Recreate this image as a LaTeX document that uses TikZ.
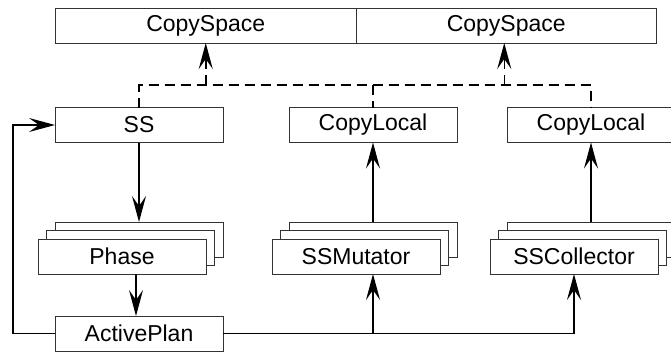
\documentclass[tikz,border=0pt]{standalone}
\usepackage{fontspec}
\setmainfont{Liberation Sans}
\usetikzlibrary{arrows.meta}
\begin{document}
\begin{tikzpicture}[x=1pt,y=-1pt,
  box/.style={draw=black!80,line width=0.9pt,fill=white,minimum width=168pt,minimum height=35pt,
              inner sep=0pt,outer sep=0pt,font=\fontsize{23}{27}\selectfont},
  wide/.style={box,minimum width=300.5pt},
  conn/.style={line width=1.5pt},
  arr/.style={conn,-{Stealth[length=26pt,width=14pt,inset=10pt]}},
  bus/.style={conn,dashed,dash pattern=on 10pt off 6pt}]
\useasboundingbox (0,0) rectangle (671,353);
\clip (0,0) rectangle (671,353);

% shared spaces
\node[wide] (cs1) at (205.75,25.5) {CopySpace};
\node[wide] (cs2) at (506.25,25.5) {CopySpace};

% top row
\node[box] (ss)  at (139,125) {SS};
\node[box] (cl1) at (373,125) {CopyLocal};
\node[box] (cl2) at (591,125) {CopyLocal};

% stacked instances
\node[box] (phaseB) at (139,239.5) {};
\node[box] (phaseM) at (130.5,248) {};
\node[box] (phase)  at (122,256.5) {Phase};
\node[box] (mutB) at (373,239.5) {};
\node[box] (mutM) at (364.5,248) {};
\node[box] (mut)  at (356,256.5) {SSMutator};
\node[box] (colB) at (591,239.5) {};
\node[box] (colM) at (582.5,248) {};
\node[box] (col)  at (574,256.5) {SSCollector};

\node[box] (ap) at (139,333.5) {ActivePlan};

% dashed link to the copy spaces
\coordinate (busy) at (0,85);
\draw[bus] (ss.north) -- (ss.north |- busy) -- (cl2.north |- busy) -- (cl2.north);
\draw[bus] (cl1.north |- busy) -- (cl1.north);
\draw[bus,arr] (cs1.south |- busy) -- (cs1.south);
\draw[bus,arr] ([xshift=-2pt]cs2.south |- busy) -- ([xshift=-2pt]cs2.south);

% control flow
\draw[arr] (ss.south) -- (phaseB.north);
\draw[arr] ([xshift=14pt]phase.south) -- ([xshift=14pt]phase.south |- ap.north);
\draw[arr] (ap.west) -- ++(-42,0) |- (ss.west);
\draw[conn] (ap.east) -- (col.south |- ap.east);
\draw[arr] (mutB.center |- ap.east) -- (mutB.center |- mut.south);
\draw[arr] (col.south |- ap.east) -- (col.south);
\draw[arr] (mutB.north) -- (cl1.south);
\draw[arr] (colB.north) -- (cl2.south);
\end{tikzpicture}
\end{document}
